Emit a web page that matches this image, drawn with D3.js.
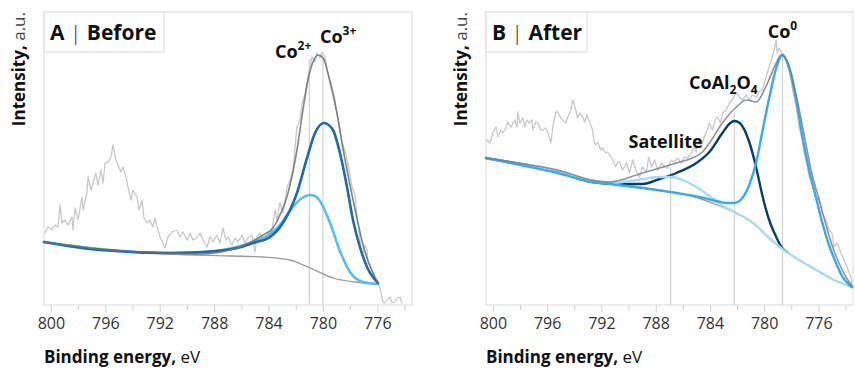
<!DOCTYPE html>
<html><head><meta charset="utf-8">
<script src="https://cdn.jsdelivr.net/npm/d3@7/dist/d3.min.js"></script>
<style>body{margin:0;background:#fff}svg{display:block}</style>
</head><body>
<svg id="c" width="855" height="370"></svg>
<script>
// ---------- DATA (binding energy eV, intensity a.u.) ----------
const tickLabels = [800, 796, 792, 788, 784, 780, 776];
const minorTicks = [798, 794, 790, 786, 782, 778, 774];

const rawA = [[800.44,72],[800.22,78],[799.92,75],[799.70,80],[799.48,78],[799.33,100],[799.19,82],[798.97,85],[798.75,80],[798.45,88],[798.38,75],[798.23,97],[798.01,85],[797.72,108],[797.64,95],[797.35,112],[797.27,128],[797.05,115],[796.91,122],[796.69,132],[796.54,120],[796.32,135],[796.17,122],[796.02,142],[795.80,143],[795.58,148],[795.44,160],[795.22,145],[795.07,140],[794.85,133],[794.70,138],[794.48,128],[794.33,118],[794.11,105],[793.97,115],[793.67,108],[793.52,95],[793.30,105],[793.16,87],[792.94,82],[792.72,85],[792.50,78],[792.35,87],[792.20,78],[791.98,68],[791.76,62],[791.61,57],[791.39,68],[791.10,73],[790.73,75],[790.51,68],[790.29,73],[790.00,65],[789.77,72],[789.55,65],[789.26,67],[789.04,72],[788.82,65],[788.52,58],[788.30,68],[788.08,63],[787.79,70],[787.57,62],[787.35,77],[787.13,65],[786.98,68],[786.69,60],[786.47,67],[786.25,63],[785.95,70],[785.73,62],[785.51,67],[785.22,70],[785.00,53],[784.85,68],[784.63,72],[784.41,65],[784.11,73],[783.89,68],[783.75,75],[783.52,95],[783.38,85],[783.16,102],[782.94,92],[782.64,118],[782.42,125],[782.20,135],[781.91,178],[781.69,185],[781.54,202],[781.32,210],[781.10,228],[780.95,238],[780.80,248],[780.58,243],[780.44,252],[780.22,247],[780.07,253],[779.85,248],[779.63,232],[779.48,225],[779.33,218],[779.11,205],[778.97,192],[778.75,175],[778.60,162],[778.38,155],[778.23,145],[778.01,130],[777.86,118],[777.64,110],[777.50,90],[777.35,75],[777.20,55],[777.05,52],[776.91,60],[776.76,55],[776.69,42],[776.54,40],[776.39,35],[776.17,25],[775.95,22],[775.80,17],[775.66,8],[775.58,3],[775.44,2],[775.29,5],[775.07,8],[774.92,2],[774.70,3],[774.55,7],[774.33,8],[774.19,2]];

const bgA = [[800.51,63],[796.39,56],[791.47,51],[786.83,49],[784.41,48],[782.42,45],[780.95,37],[779.26,27],[777.64,23],[775.95,21]];
const totalA = [[800.51,63],[796.39,56],[791.47,52],[789.04,51],[786.83,55],[785.58,61],[784.41,70],[783.67,77],[783.16,90],[782.79,102],[782.42,120],[781.91,155],[781.47,195],[781.10,225],[780.73,243],[780.36,250],[779.99,247],[779.48,223],[778.97,192],[778.53,157],[778.01,120],[777.50,87],[777.05,60],[776.54,39],[775.95,22]];
const co3A = [[800.51,63],[796.39,55],[791.25,52],[788.82,53],[786.32,57],[785.14,62],[783.89,68],[782.94,82],[782.42,95],[781.91,112],[781.17,147],[780.58,172],[779.92,182],[779.26,175],[778.75,152],[778.23,118],[777.79,85],[777.28,58],[776.76,38],[775.95,22]];
const co2A = [[800.51,63],[796.39,56],[791.25,52],[788.82,53],[786.32,58],[785.14,63],[783.89,71],[783.16,80],[782.64,90],[782.20,98],[781.54,107],[780.95,110],[780.58,109],[780.22,104],[779.48,82],[778.75,54],[778.01,33],[777.05,23],[775.95,21]];
const peaksA = [{name:"Co", sup:"2+", ev:781.0, top:246}, {name:"Co", sup:"3+", ev:780.0, top:250}];

const rawB = [[800.44,165],[800.22,162],[800.00,172],[799.77,178],[799.63,168],[799.41,175],[799.26,172],[799.04,177],[798.89,183],[798.67,178],[798.52,182],[798.38,185],[798.23,178],[798.16,193],[798.01,182],[797.79,187],[797.64,178],[797.50,185],[797.35,182],[797.13,185],[797.05,175],[796.83,183],[796.69,182],[796.47,175],[796.32,175],[796.10,177],[795.95,173],[795.73,162],[795.58,178],[795.36,193],[795.22,193],[794.99,187],[794.85,185],[794.63,182],[794.48,188],[794.26,195],[794.11,205],[793.89,195],[793.75,187],[793.60,192],[793.38,188],[793.23,183],[793.08,190],[792.86,182],[792.64,175],[792.57,165],[792.42,160],[792.27,163],[792.05,155],[791.91,157],[791.69,152],[791.54,153],[791.32,148],[791.17,145],[790.95,138],[790.80,143],[790.66,143],[790.44,135],[790.14,142],[789.92,132],[789.70,145],[789.41,133],[789.19,128],[788.97,138],[788.67,133],[788.52,148],[788.30,138],[788.08,145],[787.86,135],[787.57,142],[787.35,138],[787.13,137],[786.83,145],[786.61,143],[786.39,147],[786.10,142],[785.88,148],[785.66,147],[785.36,152],[785.14,158],[785.00,153],[784.85,165],[784.63,158],[784.41,168],[784.19,175],[784.04,182],[783.82,175],[783.60,185],[783.45,188],[783.23,182],[783.08,192],[782.79,195],[782.57,202],[782.35,205],[782.05,213],[781.83,208],[781.61,205],[781.32,210],[781.10,205],[780.88,210],[780.58,208],[780.36,213],[780.14,215],[779.92,225],[779.77,232],[779.48,245],[779.26,255],[779.11,265],[779.04,252],[778.89,257],[778.75,253],[778.52,250],[778.38,245],[778.16,235],[777.94,218],[777.64,198],[777.42,178],[777.20,165],[777.05,152],[776.83,140],[776.69,128],[776.47,122],[776.17,105],[775.95,108],[775.73,92],[775.44,85],[775.22,75],[775.00,72],[774.85,58],[774.63,62],[774.33,52],[774.11,45],[773.89,38],[773.60,28],[773.53,20]];

const bgB = [[800.51,147],[797.64,140],[795.22,133],[792.72,124],[790.29,120],[787.86,115],[785.36,109],[783.45,100],[782.05,92],[780.73,81],[779.63,67],[778.67,56],[777.42,45],[776.17,35],[775.00,26],[773.53,18]];
const satB = [[800.51,147],[797.64,140],[795.22,133],[792.72,124],[791.39,122],[789.92,124],[788.97,126],[787.72,128],[786.83,128],[786.03,125],[785.00,118],[784.04,109],[783.30,101],[782.35,94],[782.05,92],[780.73,81],[779.63,67],[778.67,56],[777.42,45],[776.17,35],[775.00,26],[773.53,18]];
const coAlB = [[800.51,147],[797.64,140],[795.22,133],[792.72,123],[790.66,121],[788.97,121],[787.72,126],[786.47,132],[785.00,142],[784.04,153],[783.08,172],[782.50,182],[782.20,184],[781.80,182],[781.10,163],[780.58,137],[780.14,110],[779.63,85],[779.11,68],[778.67,57],[778.30,53]];
const co0B = [[800.51,147],[797.64,139],[795.22,132],[792.72,123],[791.39,121],[788.97,117],[786.47,112],[784.78,108],[783.53,104],[782.79,102],[782.20,102],[781.61,107],[781.10,120],[780.58,143],[780.14,173],[779.63,207],[779.11,237],[778.67,250],[778.16,237],[777.64,205],[777.20,170],[776.69,135],[776.17,107],[775.73,83],[775.22,60],[774.70,42],[774.26,29],[773.53,18]];
const totalB = [[800.51,147],[797.64,141],[795.22,135],[792.72,125],[791.39,123],[788.97,132],[786.47,142],[785.29,147],[784.55,153],[784.04,162],[783.08,182],[782.05,198],[781.32,205],[780.58,203],[779.85,219],[779.11,242],[778.75,250],[778.16,239],[777.64,210],[777.05,170],[776.54,135],[775.95,105],[775.44,80],[775.00,60],[774.48,42],[773.97,28],[773.53,19]];
const peaksB = [{name:"Satellite", ev:786.9, top:138}, {name:"CoAl2O4", ev:782.2, top:192}, {name:"Co0", ev:778.65, top:250}];

// ---------- DRAW ----------
const svg = d3.select("#c");
const FONT = "'Open Sans', sans-serif";
const TOP = 12, BOTTOM = 305;
const EV_DOMAIN = [800.51, 773.45];
const I_DOMAIN = [0, 293];

function makePanel(left, right, yTitleX, title, titleW) {
  const x = d3.scaleLinear().domain(EV_DOMAIN).range([left, right]);
  const y = d3.scaleLinear().domain(I_DOMAIN).range([BOTTOM, TOP]);
  const g = svg.append("g");
  g.append("rect").attr("x", left).attr("y", TOP).attr("width", right-left).attr("height", BOTTOM-TOP)
    .attr("fill", "none").attr("stroke", "#dcdcdc").attr("stroke-width", 1);
  const ax = d3.axisBottom(x).tickValues(tickLabels).tickSize(7).tickPadding(6).tickFormat(d3.format("d"));
  const ag = g.append("g").attr("transform", `translate(0,${BOTTOM})`).call(ax);
  ag.select(".domain").remove();
  ag.selectAll(".tick line").attr("stroke", "#cfcfcf");
  ag.selectAll(".tick text").attr("font-family", FONT).attr("font-size", 16).attr("fill", "#333");
  const mg = g.append("g").attr("transform", `translate(0,${BOTTOM})`)
    .call(d3.axisBottom(x).tickValues(minorTicks).tickSize(5).tickFormat(""));
  mg.select(".domain").remove();
  mg.selectAll(".tick line").attr("stroke", "#cfcfcf");
  const xt = g.append("text").attr("x", left).attr("y", 363).attr("font-family", FONT).attr("font-size", 17).attr("fill", "#111");
  xt.append("tspan").attr("font-weight", 700).text("Binding energy,");
  xt.append("tspan").attr("font-weight", 400).text(" eV");
  const yt = g.append("text").attr("transform", `translate(${yTitleX},${TOP}) rotate(-90)`)
    .attr("text-anchor", "end").attr("font-family", FONT).attr("font-size", 17).attr("fill", "#111");
  yt.append("tspan").attr("font-weight", 700).text("Intensity,");
  yt.append("tspan").attr("font-weight", 400).attr("fill", "#444").text(" a.u.");
  return {x, y, g, left, right, title, titleW};
}

function line(p, data, color, width, curve, opacity) {
  p.g.append("path").datum(data)
    .attr("d", d3.line().x(d => p.x(d[0])).y(d => p.y(d[1])).curve(curve || d3.curveMonotoneX))
    .attr("fill", "none").attr("stroke", color).attr("stroke-width", width)
    .attr("stroke-linejoin", "round").attr("stroke-linecap", "round")
    .attr("stroke-opacity", opacity == null ? 1 : opacity);
}

function vline(p, pk) {
  p.g.append("line").attr("x1", p.x(pk.ev)).attr("x2", p.x(pk.ev))
    .attr("y1", p.y(0)).attr("y2", p.y(pk.top)).attr("stroke", "#d2d2d2").attr("stroke-width", 1.2);
}

function titleBox(p) {
  p.g.append("rect").attr("x", p.left).attr("y", TOP).attr("width", p.titleW).attr("height", 40)
    .attr("fill", "#fff").attr("stroke", "#dcdcdc");
  const t = p.g.append("text").attr("x", p.left + 6).attr("y", 40).attr("font-family", FONT)
    .attr("font-size", 21).attr("fill", "#111");
  t.append("tspan").attr("font-weight", 700).text(p.title[0]);
  t.append("tspan").attr("font-weight", 300).text(" | ");
  t.append("tspan").attr("font-weight", 700).text(p.title[1]);
}

const LBL = 18, SUP = 12;

// Panel A
const A = makePanel(44, 412, 25, ["A", "Before"], 120);
peaksA.forEach(pk => vline(A, pk));
line(A, rawA, "#c8c8c8", 1.3, d3.curveLinear);
line(A, bgA, "#9a9a9a", 1.3);
line(A, co2A, "#5cbcf0", 2.6);
line(A, co3A, "#1d6bab", 2.6);
line(A, totalA, "#6e6e6e", 1.6, null, 0.85);
titleBox(A);
{
  const t1 = A.g.append("text").attr("x", A.x(781.0) + 2).attr("y", 58).attr("text-anchor", "end")
    .attr("font-family", FONT).attr("font-weight", 700).attr("font-size", LBL).attr("fill", "#111");
  t1.append("tspan").text(peaksA[0].name);
  t1.append("tspan").attr("font-size", SUP).attr("dy", -8).text(peaksA[0].sup);
  const t2 = A.g.append("text").attr("x", A.x(780.0) - 3).attr("y", 43)
    .attr("font-family", FONT).attr("font-weight", 700).attr("font-size", LBL).attr("fill", "#111");
  t2.append("tspan").text(peaksA[1].name);
  t2.append("tspan").attr("font-size", SUP).attr("dy", -8).text(peaksA[1].sup);
}

// Panel B
const B = makePanel(486, 853, 467, ["B", "After"], 101);
peaksB.forEach(pk => vline(B, pk));
line(B, rawB, "#c8c8c8", 1.3, d3.curveLinear);
line(B, bgB, "#9a9a9a", 1.3);
line(B, coAlB, "#0d3d66", 2.4);
line(B, satB, "#a9daf5", 2.4);
line(B, co0B, "#3ea8ea", 2.4);
line(B, totalB, "#6e7a84", 1.6, null, 0.8);
titleBox(B);
{
  const lbl = (x, y) => B.g.append("text").attr("x", x).attr("y", y).attr("text-anchor", "middle")
    .attr("font-family", FONT).attr("font-weight", 700).attr("font-size", LBL).attr("fill", "#111");
  lbl(B.x(786.9) - 5, 148).text("Satellite");
  const t = lbl(B.x(782.2) - 11, 89);
  t.append("tspan").text("CoAl");
  t.append("tspan").attr("font-size", SUP).attr("dy", 5).text("2");
  t.append("tspan").attr("dy", -5).text("O");
  t.append("tspan").attr("font-size", SUP).attr("dy", 5).text("4");
  const c = lbl(B.x(778.65), 38);
  c.append("tspan").text("Co");
  c.append("tspan").attr("font-size", SUP).attr("dy", -8).text("0");
}
</script>
</body></html>
